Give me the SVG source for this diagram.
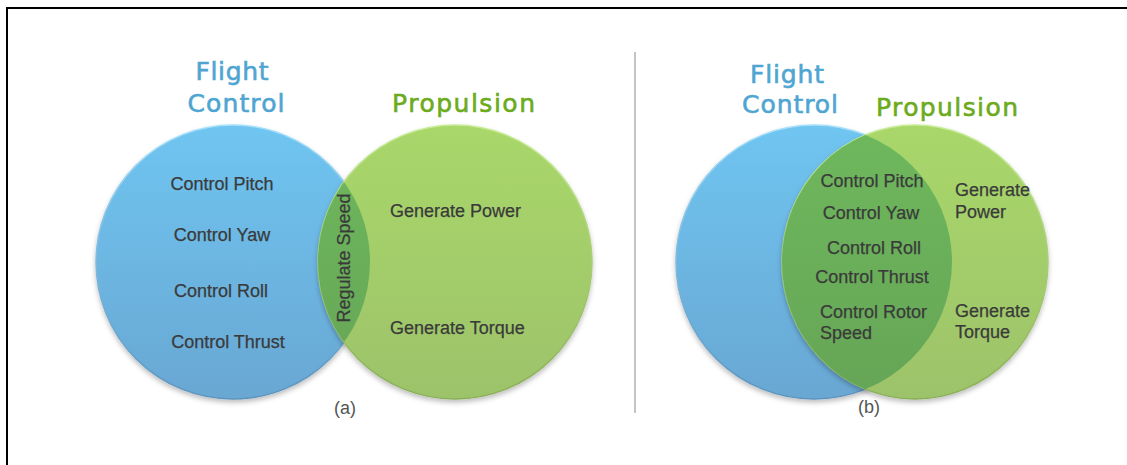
<svg xmlns="http://www.w3.org/2000/svg" width="1127" height="465" viewBox="0 0 1127 465">
<defs>
<linearGradient id="gBlue" x1="0" y1="0" x2="0" y2="1">
<stop offset="0" stop-color="#6fc5f1"/>
<stop offset="1" stop-color="#6aa7d3"/>
</linearGradient>
<linearGradient id="gGreen" x1="0" y1="0" x2="0" y2="1">
<stop offset="0" stop-color="#a9d76b"/>
<stop offset="1" stop-color="#9dc36a"/>
</linearGradient>
<linearGradient id="gLens" x1="0" y1="0" x2="0" y2="1">
<stop offset="0" stop-color="#6fb85d"/>
<stop offset="1" stop-color="#65a556"/>
</linearGradient>
<linearGradient id="sBlue" x1="0" y1="0" x2="0" y2="1">
<stop offset="0" stop-color="#a6e0fa"/>
<stop offset="1" stop-color="#5a93bd"/>
</linearGradient>
<linearGradient id="sGreen" x1="0" y1="0" x2="0" y2="1">
<stop offset="0" stop-color="#c8ec95"/>
<stop offset="1" stop-color="#8aae58"/>
</linearGradient>
<filter id="shadow" x="-10%" y="-10%" width="120%" height="125%">
<feDropShadow dx="0" dy="3" stdDeviation="2.5" flood-color="#000" flood-opacity="0.25"/>
</filter>
<clipPath id="clipBlueA"><circle cx="233" cy="262" r="137"/></clipPath>
<clipPath id="clipBlueB"><ellipse cx="814" cy="262" rx="138" ry="137"/></clipPath>
</defs>
<style>
.t{font-family:"Liberation Sans",Arial,sans-serif;font-size:18px;fill:#3a3a3a;stroke:#3a3a3a;stroke-width:0.25}
.c{text-anchor:middle}
.hb{font-family:"DejaVu Sans",Verdana,sans-serif;font-size:25px;fill:#4fa5d2;stroke:#4fa5d2;stroke-width:0.6}
.hg{font-family:"DejaVu Sans",Verdana,sans-serif;font-size:25px;fill:#6cab1c;stroke:#6cab1c;stroke-width:0.6}
.lbl{font-family:"Liberation Sans",Arial,sans-serif;font-size:18px;fill:#555;text-anchor:middle}
.blue{fill:url(#gBlue);stroke:url(#sBlue);stroke-width:1.5}
.green{fill:url(#gGreen);stroke:url(#sGreen);stroke-width:1.5}
.lens{fill:url(#gLens)}
</style>
<rect x="7" y="8" width="1130" height="470" fill="#fff" stroke="#000" stroke-width="2"/>
<g id="divider">
<line x1="635" y1="52" x2="635" y2="413" stroke="#c4c4c4" stroke-width="2"/>
</g>
<g id="connectors"/>
<g id="diagram-a">
<g id="a-flight-control">
<circle class="blue" cx="233" cy="262" r="137" filter="url(#shadow)"/>
<text class="hb c" x="232" y="80" textLength="73">Flight</text>
<text class="hb c" x="236" y="112" textLength="97">Control</text>
</g>
<g id="a-propulsion">
<circle class="green" cx="455" cy="262" r="137" filter="url(#shadow)"/>
<text class="hg" x="392" y="112" textLength="143">Propulsion</text>
</g>
<g id="a-overlap">
<circle class="lens" cx="455" cy="262" r="137" clip-path="url(#clipBlueA)"/>
</g>
<g id="a-items">
<text class="t c" x="222" y="190">Control Pitch</text>
<text class="t c" x="222" y="241">Control Yaw</text>
<text class="t c" x="221" y="297">Control Roll</text>
<text class="t c" x="228" y="348">Control Thrust</text>
<text class="t" x="390" y="217">Generate Power</text>
<text class="t" x="390" y="334">Generate Torque</text>
<text class="t c" transform="translate(350,258) rotate(-90)" x="0" y="0">Regulate Speed</text>
</g>
<text class="lbl" x="345" y="414">(a)</text>
</g>
<g id="diagram-b">
<g id="b-flight-control">
<ellipse class="blue" cx="814" cy="262" rx="138" ry="137" filter="url(#shadow)"/>
<text class="hb c" x="787" y="83" textLength="74">Flight</text>
<text class="hb c" x="790" y="113" textLength="96">Control</text>
</g>
<g id="b-propulsion">
<ellipse class="green" cx="915" cy="262" rx="133" ry="137" filter="url(#shadow)"/>
<text class="hg" x="876" y="116" textLength="142">Propulsion</text>
</g>
<g id="b-overlap">
<ellipse class="lens" cx="915" cy="262" rx="133" ry="137" clip-path="url(#clipBlueB)"/>
</g>
<g id="b-items">
<text class="t c" x="872" y="187">Control Pitch</text>
<text class="t c" x="871" y="219">Control Yaw</text>
<text class="t c" x="874" y="254">Control Roll</text>
<text class="t c" x="872" y="283">Control Thrust</text>
<text class="t" x="820" y="318">Control Rotor</text>
<text class="t" x="820" y="339">Speed</text>
<text class="t" x="955" y="196">Generate</text>
<text class="t" x="955" y="218">Power</text>
<text class="t" x="955" y="317">Generate</text>
<text class="t" x="955" y="338">Torque</text>
</g>
<text class="lbl" x="869" y="413">(b)</text>
</g>
</svg>
